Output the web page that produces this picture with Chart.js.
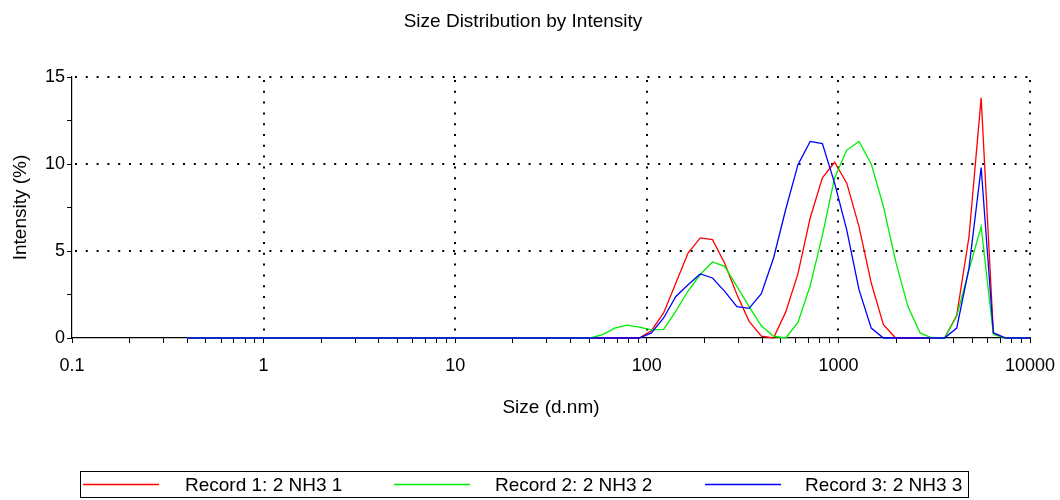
<!DOCTYPE html>
<html><head><meta charset="utf-8">
<script src="https://cdn.jsdelivr.net/npm/chart.js@4.4.0/dist/chart.umd.min.js"></script>
<style>html,body{margin:0;padding:0;background:#fff;}#wrap{width:1060px;height:500px;position:relative;}</style>
</head><body><div id="wrap"><canvas id="c" width="1060" height="500"></canvas></div>
<script>
const chartTitle = 'Size Distribution by Intensity';
const xAxisTitle = 'Size (d.nm)';
const yAxisTitle = 'Intensity (%)';
const seriesLabels = ['Record 1: 2 NH3 1', 'Record 2: 2 NH3 2', 'Record 3: 2 NH3 3'];
const seriesColors = ['#ff0000', '#00ee00', '#0000ff'];
const sizes = [0.4, 0.4632, 0.5365, 0.6213, 0.7195, 0.8332, 0.9649, 1.117, 1.294, 1.499,
  1.736, 2.010, 2.328, 2.696, 3.122, 3.615, 4.187, 4.849, 5.615, 6.503,
  7.531, 8.721, 10.10, 11.70, 13.54, 15.69, 18.17, 21.04, 24.36, 28.21,
  32.67, 37.84, 43.82, 50.75, 58.77, 68.06, 78.82, 91.28, 105.7, 122.4,
  141.8, 164.2, 190.1, 220.2, 255.0, 295.3, 342.0, 396.1, 458.7, 531.2,
  615.1, 712.4, 825.0, 955.4, 1106, 1281, 1484, 1718, 1990, 2305,
  2669, 3091, 3580, 4145, 4801, 5560, 6439, 7456, 8635, 10000];
const record1 = [0,0,0,0,0,0,0,0,0,0,
  0,0,0,0,0,0,0,0,0,0,
  0,0,0,0,0,0,0,0,0,0,
  0,0,0,0,0,0,0,0,0.42,1.44,
  3.16,4.88,5.75,5.65,4.3,2.5,0.96,0.1,0,1.5,
  3.7,6.9,9.2,10.1,8.9,6.4,3.16,0.76,0,0,
  0,0,0,1.3,5.8,13.8,0.3,0,0,0];
const record2 = [0,0,0,0,0,0,0,0,0,0,
  0,0,0,0,0,0,0,0,0,0,
  0,0,0,0,0,0,0,0,0,0,
  0,0,0,0,0.19,0.57,0.74,0.62,0.47,0.5,
  1.55,2.7,3.65,4.37,4.12,2.97,1.8,0.7,0.1,0,
  0.9,3.0,5.9,9.2,10.8,11.3,10.0,7.56,4.4,1.82,
  0.29,0,0,1.25,3.9,6.4,0.2,0,0,0];
const record3 = [0,0,0,0,0,0,0,0,0,0,
  0,0,0,0,0,0,0,0,0,0,
  0,0,0,0,0,0,0,0,0,0,
  0,0,0,0,0,0,0,0,0.29,1.15,
  2.39,3.06,3.68,3.45,2.68,1.8,1.7,2.55,4.6,7.4,
  9.96,11.3,11.17,8.9,6.2,2.78,0.57,0,0,0,
  0,0,0,0.57,4.0,9.8,0.3,0,0,0];
const xDecades = [0.1, 1, 10, 100, 1000, 10000];
const xTickLabels = ['0.1', '1', '10', '100', '1000', '10000'];
const yTicks = [0, 2.5, 5, 7.5, 10, 12.5, 15];
const yTickLabels = ['0', '', '5', '', '10', '', '15'];
const yGrid = [5, 10, 15];

const FONT = '"Liberation Sans", Arial, sans-serif';
const xTickValues = [];
for (let d = 0; d < xDecades.length - 1; d++) {
  for (let m = 1; m <= 9; m++) xTickValues.push(m === 1 ? xDecades[d] : xDecades[d] * m);
}
xTickValues.push(xDecades[xDecades.length - 1]);

const allSeries = [record1, record2, record3];
const datasets = allSeries.map((vals, i) => ({
  label: seriesLabels[i],
  data: sizes.map((s, j) => ({x: s, y: vals[j]})),
  borderColor: seriesColors[i],
  backgroundColor: seriesColors[i],
  borderWidth: 1.3,
  pointRadius: 0,
  tension: 0,
  fill: false,
  clip: 3,
  order: 3 - i
}));

const decor = {
  id: 'decor',
  beforeDatasetsDraw(chart) {
    const ctx = chart.ctx, x = chart.scales.x, y = chart.scales.y;
    const a = chart.chartArea;
    ctx.save();
    ctx.strokeStyle = '#000';
    ctx.lineWidth = 2;
    ctx.setLineDash([2, 8.8]);
    yGrid.forEach(v => {
      const py = Math.round(y.getPixelForValue(v));
      ctx.beginPath(); ctx.moveTo(a.left + 3, py); ctx.lineTo(a.right, py); ctx.stroke();
    });
    xDecades.slice(1).forEach(v => {
      const px = Math.round(x.getPixelForValue(v));
      ctx.beginPath(); ctx.moveTo(px, a.top + 3); ctx.lineTo(px, a.bottom); ctx.stroke();
    });
    ctx.restore();
  },
  afterDraw(chart) {
    const ctx = chart.ctx;
    ctx.save();
    ctx.fillStyle = '#000';
    ctx.font = '19px ' + FONT;
    ctx.textAlign = 'center';
    ctx.textBaseline = 'alphabetic';
    ctx.fillText(chartTitle, 523, 27);
    ctx.strokeStyle = '#000';
    ctx.lineWidth = 1;
    ctx.strokeRect(80.5, 471.5, 888, 26);
    const lineX = [83, 394, 705];
    const textX = [185, 495, 805];
    chart.data.datasets.forEach((ds, i) => {
      ctx.strokeStyle = ds.borderColor;
      ctx.lineWidth = 1.3;
      ctx.beginPath(); ctx.moveTo(lineX[i], 484.5); ctx.lineTo(lineX[i] + 76, 484.5); ctx.stroke();
      ctx.fillStyle = '#000';
      ctx.textAlign = 'left';
      ctx.font = '19px ' + FONT;
      ctx.fillText(ds.label, textX[i], 491);
    });
    ctx.restore();
  }
};

new Chart(document.getElementById('c'), {
  type: 'line',
  data: {datasets},
  options: {
    responsive: false,
    animation: false,
    devicePixelRatio: 1,
    layout: {padding: {left: 4, right: 30, top: 77, bottom: 81}},
    plugins: {legend: {display: false}, title: {display: false}, tooltip: {enabled: false}},
    scales: {
      x: {
        type: 'logarithmic', min: 0.1, max: 10000,
        afterBuildTicks: s => { s.ticks = xTickValues.map(v => ({value: v})); },
        afterFit: s => { s.height = 81; s.paddingLeft = 0; s.paddingRight = 0; },
        ticks: {
          autoSkip: false, maxRotation: 0, minRotation: 0, color: '#000', padding: 12,
          font: {family: FONT, size: 18},
          callback: v => { const k = xDecades.indexOf(v); return k >= 0 ? xTickLabels[k] : ''; }
        },
        grid: {drawOnChartArea: false, drawTicks: true, tickLength: 5, tickColor: '#000', tickWidth: 1},
        border: {display: true, color: '#000', width: 1.2},
        title: {display: true, text: xAxisTitle, color: '#000', font: {family: FONT, size: 19}, padding: {top: 3, bottom: 0}}
      },
      y: {
        type: 'linear', min: 0, max: 15,
        afterBuildTicks: s => { s.ticks = yTicks.map(v => ({value: v})); },
        afterFit: s => { s.width = 68; s.paddingTop = 0; s.paddingBottom = 0; },
        ticks: {
          autoSkip: false, color: '#000', padding: 2,
          font: {family: FONT, size: 18},
          callback: v => { const k = yTicks.indexOf(v); return k >= 0 ? yTickLabels[k] : ''; }
        },
        grid: {drawOnChartArea: false, drawTicks: true, tickLength: 5, tickColor: '#000', tickWidth: 1},
        border: {display: true, color: '#000', width: 1.2},
        title: {display: true, text: yAxisTitle, color: '#000', font: {family: FONT, size: 19}, padding: {top: 5, bottom: 0}}
      }
    }
  },
  plugins: [decor]
});
</script></body></html>
